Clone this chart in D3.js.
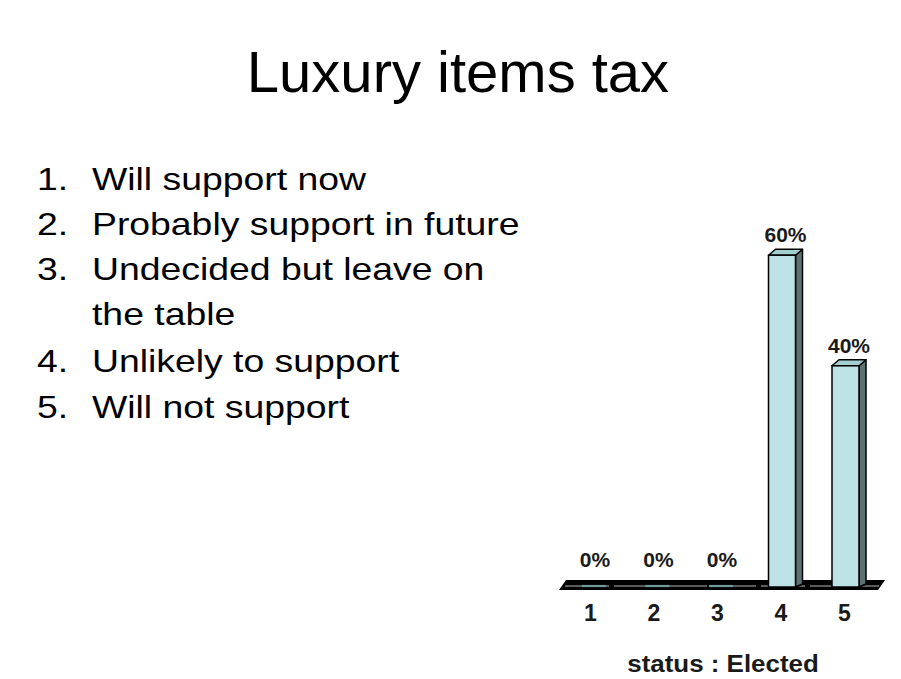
<!DOCTYPE html>
<html>
<head>
<meta charset="utf-8">
<script src="https://cdn.jsdelivr.net/npm/d3@7"></script>
<style>
  html, body { margin: 0; padding: 0; background: #ffffff; }
  svg { display: block; }
</style>
</head>
<body>
<svg id="chart" width="901" height="679"></svg>
<script>
// Slide content
const title = "Luxury items tax";
const optionNumbers = ["1.", "2.", "3.", "", "4.", "5."];
const optionTexts = [
  "Will support now",
  "Probably support in future",
  "Undecided but leave on",
  "the table",
  "Unlikely to support",
  "Will not support"
];

// Voting results
const categories = ["1", "2", "3", "4", "5"];
const percentages = [0, 0, 0, 60, 40];
const axisTitle = "status : Elected";

const svg = d3.select("#chart");

// Title
svg.append("text")
  .attr("x", 458).attr("y", 92)
  .attr("text-anchor", "middle")
  .attr("font-family", "Liberation Sans, Arial, sans-serif")
  .attr("font-size", 58)
  .attr("fill", "#000")
  .text(title);

// Numbered list (body text is set slightly wide)
const listFont = "Liberation Sans, Arial, sans-serif";
const lineY = [190, 235, 280, 325, 372, 418];
const widen = 1.167;
optionTexts.forEach((t, i) => {
  if (optionNumbers[i]) {
    svg.append("text")
      .attr("transform", `translate(37,${lineY[i]}) scale(${widen},1)`)
      .attr("font-family", listFont).attr("font-size", 32)
      .attr("fill", "#000")
      .text(optionNumbers[i]);
  }
  svg.append("text")
    .attr("transform", `translate(92,${lineY[i]}) scale(${widen},1)`)
    .attr("font-family", listFont).attr("font-size", 32)
    .attr("fill", "#000")
    .text(t);
});

// Chart geometry
const baseY = 587;
const depthX = 7, depthY = 6;
const barW = 27;

const x = d3.scalePoint().domain(categories).range([591.5, 845.5]);
const y = d3.scaleLinear().domain([0, 100]).range([baseY, baseY - 553]);

const g = svg.append("g");

// Floor slab
const floorLeft = 559, floorRight = 878;
g.append("polygon")
  .attr("points", [
    [floorLeft, baseY + 3], [floorRight, baseY + 3],
    [floorRight + depthX, baseY + 3 - depthY - 4], [floorLeft + depthX, baseY + 3 - depthY - 4]
  ].map(p => p.join(",")).join(" "))
  .attr("fill", "#000");
g.append("line")
  .attr("x1", floorLeft + 6).attr("x2", floorRight + 1)
  .attr("y1", baseY - 1).attr("y2", baseY - 1)
  .attr("stroke", "#5c5c5c").attr("stroke-width", 2.2)
  .attr("stroke-dasharray", "44 5");

const frontFill = "#bde3e6", sideFill = "#5d7373", topFill = "#a3cfd2";

const bars = g.selectAll("g.bar")
  .data(categories.map((c, i) => ({ c, v: percentages[i] })))
  .join("g").attr("class", "bar");

bars.each(function(d) {
  const sel = d3.select(this);
  const cx = x(d.c);
  const x0 = cx - barW / 2, x1 = cx + barW / 2;
  const yt = y(d.v);
  if (d.v === 0) {
    // flat top of an empty column sitting on the floor
    sel.append("line")
      .attr("x1", x0 + 4).attr("x2", x1 + 1)
      .attr("y1", baseY - 1).attr("y2", baseY - 1)
      .attr("stroke", "#6f9a9c").attr("stroke-width", 2.2);
    return;
  }
  // side face
  sel.append("polygon")
    .attr("points", [[x1, yt], [x1 + depthX, yt - depthY], [x1 + depthX, baseY - depthY + 3], [x1, baseY]]
      .map(p => p.join(",")).join(" "))
    .attr("fill", sideFill).attr("stroke", "#000").attr("stroke-width", 1.5)
    .attr("stroke-linejoin", "round");
  // top face
  sel.append("polygon")
    .attr("points", [[x0, yt], [x0 + depthX, yt - depthY], [x1 + depthX, yt - depthY], [x1, yt]]
      .map(p => p.join(",")).join(" "))
    .attr("fill", topFill).attr("stroke", "#000").attr("stroke-width", 1.5)
    .attr("stroke-linejoin", "round");
  // front face
  sel.append("rect")
    .attr("x", x0).attr("y", yt)
    .attr("width", barW).attr("height", baseY - yt)
    .attr("fill", frontFill).attr("stroke", "#000").attr("stroke-width", 1.5);
});

// Value labels
const narrow = "Liberation Sans Narrow, Arial Narrow, sans-serif";
bars.append("text")
  .attr("x", d => x(d.c) + depthX / 2)
  .attr("y", d => y(d.v) - depthY - (d.v === 0 ? 14 : 7))
  .attr("text-anchor", "middle")
  .attr("font-family", narrow).attr("font-weight", "bold")
  .attr("font-size", 21)
  .attr("fill", "#1a1a1a")
  .text(d => d.v + "%");

// Category labels
g.selectAll("text.cat")
  .data(categories)
  .join("text").attr("class", "cat")
  .attr("x", d => x(d) - 1)
  .attr("y", 621)
  .attr("text-anchor", "middle")
  .attr("font-family", narrow).attr("font-weight", "bold")
  .attr("font-size", 23)
  .attr("fill", "#1a1a1a")
  .text(d => d);

// Axis title
svg.append("text")
  .attr("transform", "translate(723,672) scale(1.08,1)")
  .attr("text-anchor", "middle")
  .attr("font-family", "Liberation Sans, Arial, sans-serif")
  .attr("font-weight", "bold")
  .attr("font-size", 24)
  .attr("fill", "#1a1a1a")
  .text(axisTitle);
</script>
</body>
</html>
